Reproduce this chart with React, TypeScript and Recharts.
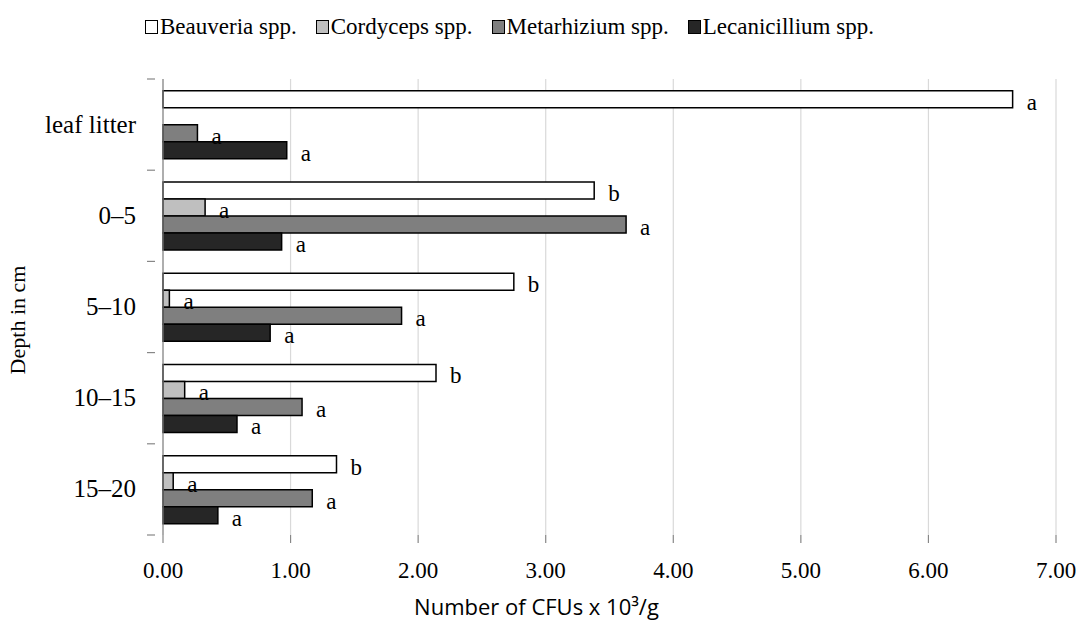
import { Bar, BarChart, CartesianGrid, LabelList, XAxis, YAxis } from "recharts";

// CFU counts (x 10^3 / g) per depth layer
const depths = ["leaf litter", "0–5", "5–10", "10–15", "15–20"];
const beauveria = [6.66, 3.38, 2.75, 2.14, 1.36];
const cordyceps = [0, 0.33, 0.05, 0.17, 0.08];
const metarhizium = [0.27, 3.63, 1.87, 1.09, 1.17];
const lecanicillium = [0.97, 0.93, 0.84, 0.58, 0.43];

// significance letters shown next to each bar
const beauveriaSig = ["a", "b", "b", "b", "b"];
const cordycepsSig = ["a", "a", "a", "a", "a"];
const metarhiziumSig = ["a", "a", "a", "a", "a"];
const lecanicilliumSig = ["a", "a", "a", "a", "a"];

const xTicks = [0, 1, 2, 3, 4, 5, 6, 7];

const series = [
  { key: "beauveria", sig: "beauveriaSig", name: "Beauveria spp.", fill: "#ffffff" },
  { key: "cordyceps", sig: "cordycepsSig", name: "Cordyceps spp.", fill: "#bfbfbf" },
  { key: "metarhizium", sig: "metarhiziumSig", name: "Metarhizium spp.", fill: "#7f7f7f" },
  { key: "lecanicillium", sig: "lecanicilliumSig", name: "Lecanicillium spp.", fill: "#262626" },
];

const data = depths.map((depth, i) => ({
  depth,
  beauveria: beauveria[i],
  cordyceps: cordyceps[i],
  metarhizium: metarhizium[i],
  lecanicillium: lecanicillium[i],
  beauveriaSig: beauveriaSig[i],
  cordycepsSig: cordycepsSig[i],
  metarhiziumSig: metarhiziumSig[i],
  lecanicilliumSig: lecanicilliumSig[i],
}));

const W = 1080;
const H = 622;
const X_AXIS_H = 60;
const Y_AXIS_W = 163;
const M = { top: 79, right: 24, bottom: 27, left: 0 };
const SERIF = "'Liberation Serif', 'DejaVu Serif', serif";
const AXIS_GREY = "#878787";
const band = (H - M.top - M.bottom - X_AXIS_H) / depths.length;

// category label plus a short tick on each band boundary
function DepthTick(props: any) {
  const { x, y, payload, index } = props;
  const top = y - band / 2;
  const last = index === depths.length - 1;
  return (
    <g>
      <line x1={x - 8} x2={x} y1={top} y2={top} stroke={AXIS_GREY} strokeWidth={1.2} />
      {last ? (
        <line x1={x - 8} x2={x} y1={top + band} y2={top + band} stroke={AXIS_GREY} strokeWidth={1.2} />
      ) : null}
      <text
        x={x - 19}
        y={y}
        dy="0.32em"
        textAnchor="end"
        fontFamily={SERIF}
        fontSize={25}
        fill="#000"
      >
        {payload.value}
      </text>
    </g>
  );
}

function SigLabel(props: any) {
  const { x, y, width, height, value } = props;
  return (
    <text
      x={x + width + 14}
      y={y + height / 2 + 3}
      dy="0.32em"
      fontFamily={SERIF}
      fontSize={23}
      fill="#000"
    >
      {value}
    </text>
  );
}

function TopLegend() {
  return (
    <div
      style={{
        position: "absolute",
        left: 145,
        top: 14,
        display: "flex",
        gap: 19,
        fontFamily: SERIF,
        fontSize: 23,
        color: "#000",
        whiteSpace: "nowrap",
      }}
    >
      {series.map((s) => (
        <span key={s.key} style={{ display: "inline-flex", alignItems: "center" }}>
          <span
            style={{
              width: 13,
              height: 14,
              background: s.fill,
              border: "1.5px solid #000",
              marginRight: 2,
              boxSizing: "border-box",
            }}
          />
          {s.name}
        </span>
      ))}
    </div>
  );
}

export default function App() {
  return (
    <div style={{ position: "absolute", left: 0, top: 0, width: W, height: H, background: "#fff" }}>
      <TopLegend />
      <BarChart
        width={W}
        height={H}
        data={data}
        layout="vertical"
        margin={M}
        barCategoryGap="13%"
        barGap={0}
      >
        <CartesianGrid horizontal={false} stroke="#d9d9d9" strokeWidth={1.2} />
        <XAxis
          type="number"
          domain={[0, 7]}
          ticks={xTicks}
          interval={0}
          height={X_AXIS_H}
          tickFormatter={(v: number) => v.toFixed(2)}
          axisLine={false}
          tickLine={{ stroke: AXIS_GREY, strokeWidth: 1.2 }}
          tickSize={8}
          tickMargin={19}
          tick={{ fontFamily: SERIF, fontSize: 23, fill: "#000" }}
          label={{
            value: "Number of CFUs x 10³/g",
            position: "bottom",
            offset: 0,
            dx: -73,
            dy: 4,
            style: { fontFamily: "'Open Sans', 'Noto Sans', sans-serif", fontSize: 22, fill: "#000" },
          }}
        />
        <YAxis
          type="category"
          dataKey="depth"
          width={Y_AXIS_W}
          axisLine={{ stroke: AXIS_GREY, strokeWidth: 1.2 }}
          tickLine={false}
          tick={<DepthTick />}
          interval={0}
          label={{
            value: "Depth in cm",
            angle: -90,
            position: "insideLeft",
            offset: 0,
            dx: 17,
            dy: 13,
            style: { fontFamily: SERIF, fontSize: 22, fill: "#000", textAnchor: "middle" },
          }}
        />
        {series.map((s) => (
          <Bar
            key={s.key}
            dataKey={s.key}
            name={s.name}
            fill={s.fill}
            stroke="#000"
            strokeWidth={1.5}
            isAnimationActive={false}
          >
            <LabelList dataKey={s.sig} content={<SigLabel />} />
          </Bar>
        ))}
      </BarChart>
    </div>
  );
}
